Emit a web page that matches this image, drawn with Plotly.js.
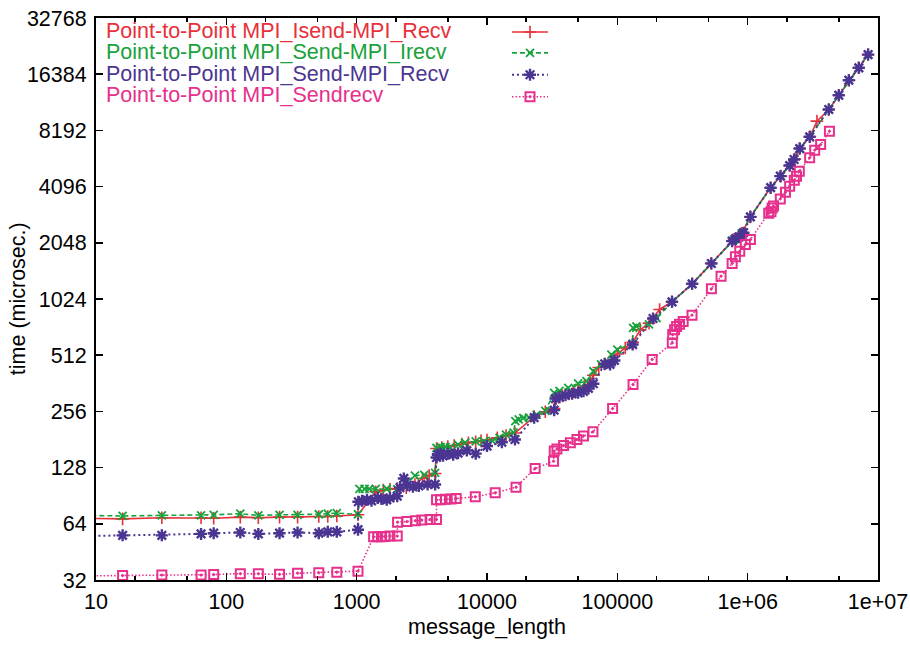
<!DOCTYPE html>
<html>
<head>
<meta charset="utf-8">
<script src="https://cdn.plot.ly/plotly-3.0.1.min.js"></script>
<style>html,body{margin:0;padding:0;background:#fff;}#chart{width:910px;height:646px;}</style>
</head>
<body>
<div id="chart"></div>
<script>
// ---- data ----
const seriesNames = [
  'Point-to-Point MPI_Isend-MPI_Recv',
  'Point-to-Point MPI_Send-MPI_Irecv',
  'Point-to-Point MPI_Send-MPI_Recv',
  'Point-to-Point MPI_Sendrecv'
];
const seriesColors = ['#e8303a', '#17a23c', '#4b3592', '#e6308c'];

const isendX = [8, 16, 32, 64, 80, 128, 176, 256, 352, 512, 600, 704, 1024, 1400, 1600, 1800, 2048, 2400, 2800, 3200, 3600, 4000, 4100, 4500, 5000, 5600, 6400, 7200, 8192, 9000, 10000, 12000, 14000, 16384, 23000, 28000, 32768, 34000, 38000, 42000, 46000, 50000, 56000, 62000, 65536, 72000, 80000, 90000, 100000, 115000, 131072, 150000, 175000, 211000, 262144, 375000, 524288, 786432, 900000, 1048576, 1500000, 1800000, 2097152, 2300000, 2500000, 3000000, 3400000, 4194304, 5000000, 6000000, 7100000, 8388608];
const isendY = [68.5, 68, 69, 69, 68.5, 69.5, 69, 69.5, 69.5, 70, 70, 70.5, 71.5, 95, 97, 98, 99, 100, 104, 112, 116, 119, 162, 164, 166, 168, 171, 174, 176, 178, 180, 185, 190, 196, 240, 255, 265, 300, 310, 318, 325, 335, 350, 370, 400, 440, 460, 480, 520, 560, 600, 700, 760, 900, 990, 1235, 1590, 2140, 2300, 2820, 4040, 4660, 5310, 5750, 6550, 7570, 9180, 10600, 12640, 15210, 17730, 20870];

const irecvX = [8, 16, 32, 64, 80, 128, 176, 256, 352, 512, 600, 704, 1024, 1050, 1150, 1250, 1400, 1700, 2048, 2800, 3300, 4000, 4100, 4400, 4800, 5200, 6000, 6800, 8192, 9500, 11000, 12500, 14000, 16000, 16500, 17500, 19000, 21000, 24000, 28000, 32768, 36000, 42000, 50000, 58000, 65536, 75000, 90000, 100000, 131072, 132000, 140000, 175000, 200000, 262144, 375000, 524288, 786432, 900000, 1048576, 1500000, 1800000, 2097152, 2500000, 3000000, 4194304, 5000000, 6000000, 7100000, 8388608];
const irecvY = [71, 70.5, 71, 71, 71.5, 72.5, 71, 71.5, 71.5, 72, 72.5, 73, 72, 98.5, 98.5, 98.5, 98.5, 98.6, 98, 116, 117, 120, 163, 165, 165, 164, 170, 174, 177, 177, 178, 185, 192, 197, 227, 232, 236, 237, 245, 258, 322, 330, 342, 362, 372, 420, 457, 515, 549, 590, 718, 730, 748, 810, 985, 1230, 1585, 2130, 2300, 2820, 4040, 4660, 5310, 6550, 7570, 10600, 12640, 15210, 17730, 20870];

const sendRecvX = [8, 16, 32, 64, 80, 128, 176, 256, 352, 512, 600, 704, 1024, 1030, 1100, 1200, 1300, 1450, 1550, 1700, 1800, 2048, 2150, 2300, 2450, 2700, 3000, 3500, 4000, 4100, 4200, 4400, 4600, 5000, 5500, 6000, 7000, 8192, 10000, 13000, 16384, 23000, 32768, 33500, 36000, 40000, 45000, 50000, 55000, 60000, 65536, 80000, 88000, 95000, 131072, 188000, 263000, 375000, 527000, 760000, 810000, 860000, 910000, 930000, 1050000, 1500000, 1780000, 2100000, 2270000, 2510000, 2990000, 4190000, 5000000, 5970000, 7130000, 8400000];
const sendRecvY = [55, 55.5, 55.5, 56.5, 57, 57.5, 56.5, 57, 57.5, 57, 58, 58, 59.5, 84, 85, 86, 85, 88, 87, 86, 88, 90, 100, 112, 103, 101, 102, 104, 104, 145, 150, 152, 148, 152, 150, 153, 158, 152, 167, 175, 181, 237, 260, 300, 305, 312, 318, 322, 328, 340, 360, 460, 457, 480, 584, 805, 989, 1235, 1587, 2090, 2160, 2200, 2260, 2320, 2820, 4040, 4660, 5310, 5720, 6550, 7570, 10600, 12640, 15210, 17730, 20870];

const sendrecvX = [4, 16, 32, 64, 80, 128, 176, 256, 352, 512, 704, 1024, 1350, 1450, 1550, 1650, 1800, 2048, 2060, 2430, 2820, 3160, 3660, 4096, 4100, 4400, 4800, 5300, 5800, 8130, 11560, 16700, 23400, 32400, 32800, 34400, 38700, 43600, 49000, 55000, 65000, 92000, 132000, 185000, 264000, 266000, 275000, 285000, 300000, 320000, 374000, 527000, 625000, 760000, 805000, 870000, 960000, 1050000, 1450000, 1510000, 1540000, 1580000, 1780000, 1950000, 2100000, 2280000, 2370000, 2490000, 2990000, 3270000, 3630000, 4240000];
const sendrecvY = [33.5, 33.8, 34, 34, 34.2, 34.6, 34.6, 34.3, 34.8, 35, 35.2, 35.7, 54.5, 54.5, 54.6, 54.8, 55, 55, 65.3, 65.8, 66.5, 67, 67.5, 67.5, 86, 86, 86.5, 87, 87.5, 89.3, 93.8, 100.5, 126.6, 138.5, 157, 161, 168, 174, 181, 189, 199, 265, 357, 486, 596, 660, 700, 730, 750, 775, 839, 1161, 1357, 1587, 1723, 1846, 2006, 2134, 2950, 3000, 3150, 3220, 3520, 3820, 4120, 4430, 4660, 4950, 5840, 6420, 6880, 8110];

const xTickVals = [10, 100, 1000, 10000, 100000, 1000000, 10000000];
const xTickText = ['10', '100', '1000', '10000', '100000', '1e+06', '1e+07'];
const xMinorVals = [20, 50, 200, 500, 2000, 5000, 20000, 50000, 200000, 500000, 2000000, 5000000];
const yTickVals = [32, 64, 128, 256, 512, 1024, 2048, 4096, 8192, 16384, 32768];
const yTickText = yTickVals.map(String);
const xTitle = 'message_length';
const yTitle = 'time (microsec.)';

// ---- styles ----
const FONT = 'Liberation Sans, Arial, sans-serif';
const FS = 21.5;
const symbols = ['cross-thin-open', 'x-thin-open', 'asterisk-open', 'square-open-dot'];
const symSizes = [9, 8, 10, 9];
const symWidths = [1.6, 1.8, 2.4, 2];
const dashes = ['solid', '5px,3px', '2px,3px', '1.5px,2px'];
const lineWidths = [1.6, 1.6, 2, 1.6];

const xs = [isendX, irecvX, sendRecvX, sendrecvX];
const ys = [isendY, irecvY, sendRecvY, sendrecvY];

const traces = [];
for (let i = 0; i < 4; i++) {
  traces.push({
    type: 'scatter', mode: 'lines+markers',
    x: xs[i], y: ys[i], name: seriesNames[i],
    line: {color: seriesColors[i], width: lineWidths[i], dash: dashes[i]},
    marker: {symbol: symbols[i], size: symSizes[i], color: seriesColors[i],
             line: {color: seriesColors[i], width: symWidths[i]}},
    showlegend: false
  });
}

// legend key samples on an overlay axis spanning [0,1]
const keyX0 = 0.532, keyXm = 0.555, keyX1 = 0.578;
const keyRowsY = [0.975, 0.938, 0.899, 0.860];
const textRowsY = [0.976, 0.939, 0.901, 0.863];
for (let i = 0; i < 4; i++) {
  traces.push({
    type: 'scatter', mode: 'lines', xaxis: 'x2', yaxis: 'y2',
    x: [keyX0, keyX1], y: [keyRowsY[i], keyRowsY[i]],
    line: {color: seriesColors[i], width: lineWidths[i], dash: dashes[i]},
    showlegend: false, hoverinfo: 'skip', cliponaxis: false
  });
  traces.push({
    type: 'scatter', mode: 'markers', xaxis: 'x2', yaxis: 'y2',
    x: [keyXm], y: [keyRowsY[i]],
    marker: {symbol: symbols[i], size: symSizes[i], color: seriesColors[i],
             line: {color: seriesColors[i], width: symWidths[i]}},
    showlegend: false, hoverinfo: 'skip', cliponaxis: false
  });
}

const annotations = seriesNames.map((t, i) => ({
  xref: 'paper', yref: 'paper', x: 0.0102, y: textRowsY[i],
  xanchor: 'left', yanchor: 'middle', showarrow: false, text: t,
  font: {size: FS, color: seriesColors[i], family: FONT}
}));
annotations.push({
  xref: 'paper', yref: 'paper', x: -0.0995, y: 0.5,
  xanchor: 'center', yanchor: 'middle', showarrow: false, textangle: -90,
  text: yTitle, font: {size: FS, color: '#000', family: FONT}
});

const axisCommon = {
  ticks: 'inside', ticklen: 7, tickwidth: 1.5, tickcolor: '#000',
  showline: true, linecolor: '#000', linewidth: 2, mirror: 'ticks',
  showgrid: false, zeroline: false,
  tickfont: {size: FS, color: '#000', family: FONT}
};

const layout = {
  width: 910, height: 646,
  margin: {l: 96, r: 32, t: 18, b: 66, pad: 0},
  paper_bgcolor: '#fff', plot_bgcolor: '#fff',
  font: {family: FONT, size: FS, color: '#000'},
  showlegend: false,
  xaxis: Object.assign({}, axisCommon, {
    type: 'log', range: [1, 7], tickmode: 'array', tickvals: xTickVals, ticktext: xTickText,
    minor: {tickmode: 'array', tickvals: xMinorVals, ticks: 'inside', ticklen: 4, tickwidth: 1.5, tickcolor: '#000', showgrid: false},
    title: {text: xTitle, font: {size: FS, family: FONT}, standoff: 6},
    ticklabelstandoff: 1
  }),
  yaxis: Object.assign({}, axisCommon, {
    type: 'log', range: [Math.log10(32), Math.log10(32768)], tickmode: 'array', tickvals: yTickVals, ticktext: yTickText,
    ticklabelstandoff: 3
  }),
  xaxis2: {overlaying: 'x', range: [0, 1], visible: false, fixedrange: true},
  yaxis2: {overlaying: 'y', range: [0, 1], visible: false, fixedrange: true},
  annotations: annotations
};

Plotly.newPlot('chart', traces, layout, {staticPlot: true, displayModeBar: false});
</script>
</body>
</html>
